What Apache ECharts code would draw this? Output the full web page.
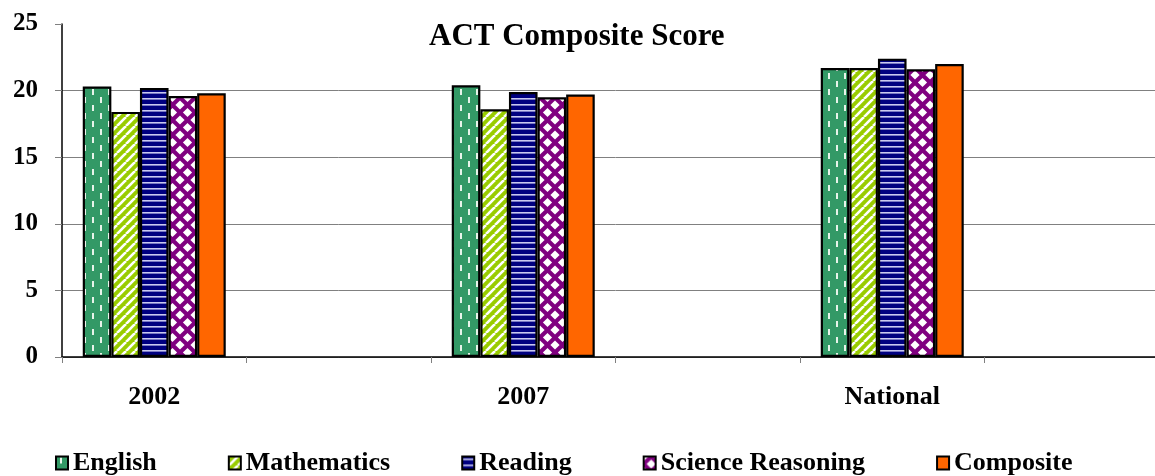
<!DOCTYPE html>
<html><head><meta charset="utf-8">
<script src="https://cdn.jsdelivr.net/npm/echarts@6/dist/echarts.min.js"></script>
<style>html,body{margin:0;padding:0;background:#fff;overflow:hidden;width:1155px;height:476px}#c{width:1169px;height:476px}</style>
</head><body><div id="c"></div>
<script>
const categories = ['2002', '', '2007', '', 'National', ''];
const english     = [20.3, null, 20.4, null, 21.7, null];
const mathematics = [18.4, null, 18.6, null, 21.7, null];
const reading     = [20.2, null, 19.9, null, 22.4, null];
const science     = [19.6, null, 19.5, null, 21.6, null];
const composite   = [19.8, null, 19.7, null, 22.0, null];
const yTicks = [0, 5, 10, 15, 20, 25];

function tile(w, h, draw) {
  const c = document.createElement('canvas');
  c.width = w; c.height = h;
  const g = c.getContext('2d');
  draw(g, w, h);
  return { image: c, repeat: 'repeat' };
}
const pEnglish = tile(16, 16, (g, w, h) => {
  g.fillStyle = '#339966'; g.fillRect(0, 0, w, h);
  g.fillStyle = '#e8f4ea';
  g.fillRect(4, 1, 2, 6); g.fillRect(12, 9, 2, 6);
});
const pMath = tile(9, 9, (g, w, h) => {
  g.fillStyle = '#99cc00'; g.fillRect(0, 0, w, h);
  g.strokeStyle = '#ffffff'; g.lineWidth = 2.6;
  for (let k = -1; k <= 1; k++) {
    g.beginPath(); g.moveTo(k * w, h); g.lineTo(k * w + w, 0); g.stroke();
  }
});
const pReading = tile(6, 6, (g, w, h) => {
  g.fillStyle = '#000080'; g.fillRect(0, 0, w, h);
  g.fillStyle = '#c8c8f0'; g.fillRect(0, 2, w, 1.6);
});
const pScience = tile(15, 15, (g, w, h) => {
  g.fillStyle = '#800080'; g.fillRect(0, 0, w, h);
  g.fillStyle = '#ffffff';
  const d = (cx, cy, r) => { g.beginPath(); g.moveTo(cx, cy - r); g.lineTo(cx + r, cy); g.lineTo(cx, cy + r); g.lineTo(cx - r, cy); g.closePath(); g.fill(); };
  const r = 4.6;
  d(7.5, 7.5, r); d(0, 0, r); d(15, 0, r); d(0, 15, r); d(15, 15, r);
});

const font = '"Liberation Serif", "Times New Roman", serif';
function bar(name, data, color) {
  return {
    name, type: 'bar', data, barWidth: 28.6, barGap: '0%',
    itemStyle: { color, borderColor: '#000', borderWidth: 2.2 }
  };
}
const chart = echarts.init(document.getElementById('c'), null, { renderer: 'canvas' });
chart.setOption({
  animation: false,
  backgroundColor: '#fff',
  title: {
    text: 'ACT Composite Score', left: 424, top: 16,
    textStyle: { fontFamily: font, fontWeight: 'bold', fontSize: 31, color: '#000' }
  },
  legend: {
    top: 450, left: 55, padding: 0, itemGap: 71, itemWidth: 12, itemHeight: 13, icon: 'rect',
    textStyle: { fontFamily: font, fontWeight: 'bold', fontSize: 26, color: '#000', padding: [0, 0, 0, 0] }
  },
  grid: { left: 62, right: 0, top: 24, bottom: 119, containLabel: false },
  xAxis: {
    type: 'category', data: categories,
    axisLine: { lineStyle: { color: '#000', width: 1.5 } },
    axisTick: { show: true, length: 6, lineStyle: { color: '#808080' } },
    axisLabel: { fontFamily: font, fontWeight: 'bold', fontSize: 26, color: '#000', margin: 27 }
  },
  yAxis: {
    type: 'value', min: yTicks[0], max: yTicks[yTicks.length - 1], interval: 5,
    axisLine: { show: true, lineStyle: { color: '#000', width: 1.5 } },
    axisTick: { show: true, length: 7, lineStyle: { color: '#808080' } },
    axisLabel: { fontFamily: font, fontWeight: 'bold', fontSize: 25, color: '#000', margin: 24 },
    splitLine: { show: true, showMaxLine: false, lineStyle: { color: '#808080', width: 1 } }
  },
  series: [
    bar('English', english, pEnglish),
    bar('Mathematics', mathematics, pMath),
    bar('Reading', reading, pReading),
    bar('Science Reasoning', science, pScience),
    bar('Composite', composite, '#ff6600')
  ]
});
</script></body></html>
